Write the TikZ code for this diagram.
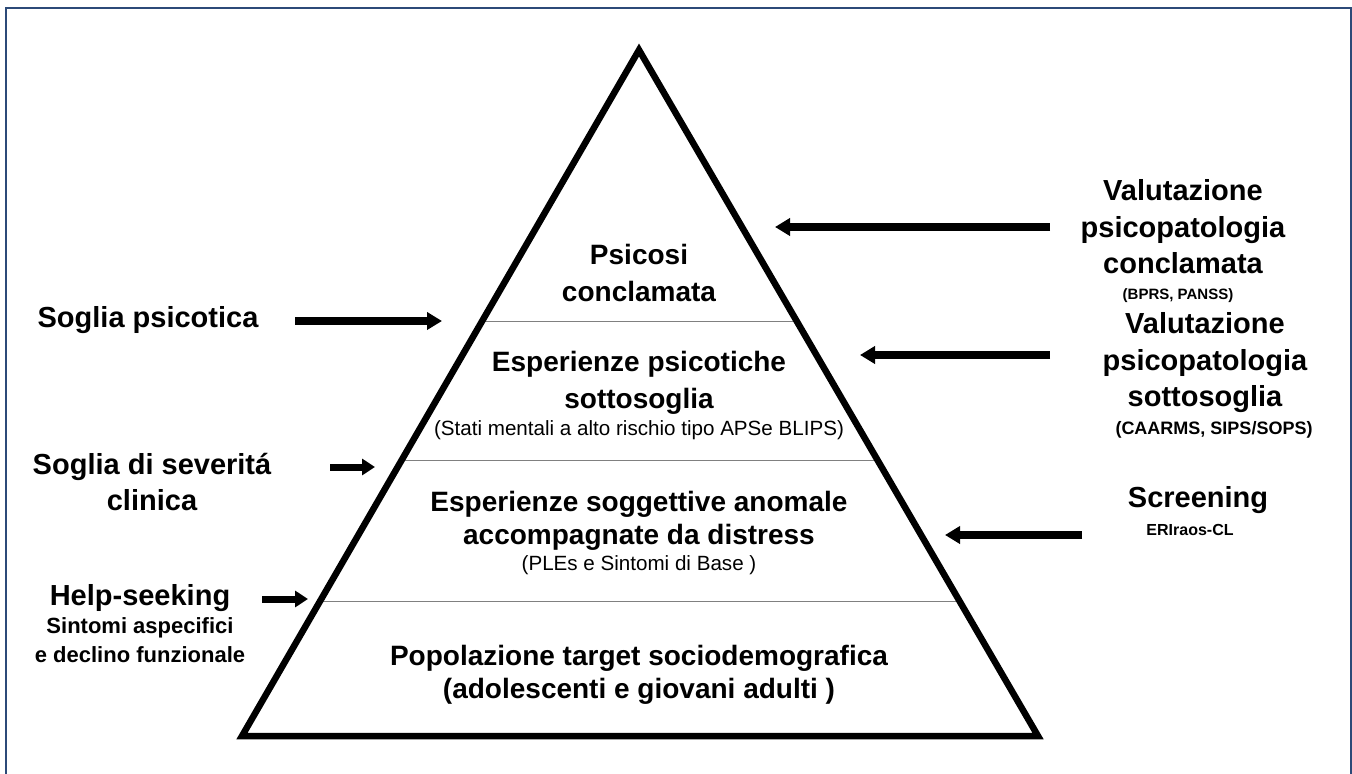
\documentclass[tikz,border=0pt]{standalone}
\usepackage{fontspec}
\setmainfont{Liberation Sans}
\usetikzlibrary{arrows.meta,calc}
\definecolor{framecol}{RGB}{44,74,120}

\begin{document}
\begin{tikzpicture}[x=0.5pt,y=-0.5pt]
	\tikzstyle{level_style} = [align=center,font=\fontsize{14}{18.5}\selectfont\bfseries]
	\tikzstyle{note_style} = [align=center,font=\fontsize{10.3}{12}\selectfont]
	\tikzstyle{label_style} = [align=center,font=\fontsize{14.5}{18.25}\selectfont\bfseries]
	\tikzstyle{small_style} = [align=center,font=\fontsize{11}{14.5}\selectfont\bfseries]
	\tikzstyle{edge_style} = [draw=black,line width=3.75pt,-{Triangle[length=7.5pt,width=8.5pt]}]
	\tikzstyle{short_edge_style} = [draw=black,line width=3.5pt,-{Triangle[length=6.5pt,width=8pt]}]
	\tikzstyle{divider_style} = [draw=gray,line width=0.5pt]
	\useasboundingbox (0,0) rectangle (1352,774);
	\begin{scope}
		\clip (0,0) rectangle (1352,774);
		\draw[framecol,line width=1pt] (6,8) rectangle (1351,800);
	\end{scope}
	% pyramid
	\coordinate (top) at (639,50);
	\coordinate (bl) at (242,736);
	\coordinate (br) at (1038,736);
	\draw[divider_style] ($(top)!0.3965!(bl)$) -- ($(top)!0.3965!(br)$);
	\draw[divider_style] ($(top)!0.5977!(bl)$) -- ($(top)!0.5977!(br)$);
	\draw[divider_style] ($(top)!0.8032!(bl)$) -- ($(top)!0.8032!(br)$);
	\draw[line width=3.25pt,line join=miter] (top) -- (bl) -- (br) -- cycle;
	\node[level_style] (p1) at (639,273) {Psicosi\\conclamata};
	\node[level_style] (p2) at (639,383) {Esperienze psicotiche\\sottosoglia};
	\node[note_style] (n2) at (639,430) {(Stati mentali a alto rischio tipo APSe BLIPS)};
	\node[level_style] (p3) at (639,521) {Esperienze soggettive anomale\\[-2pt]accompagnate da distress};
	\node[note_style] (n3) at (639,565) {(PLEs e Sintomi di Base )};
	\node[level_style] (p4) at (639,675) {Popolazione target sociodemografica\\[-2pt](adolescenti e giovani adulti )};
	% left labels
	\node[label_style] (l1) at (148,320) {Soglia psicotica};
	\node[label_style] (l2) at (152,482) {Soglia di severitá\\clinica};
	\node[label_style] (l3) at (140,598) {Help-seeking};
	\node[small_style] (l4) at (140,640) {Sintomi aspecifici\\e declino funzionale};
	% right labels
	\node[label_style] (r1) at (1183,227) {Valutazione\\psicopatologia\\conclamata};
	\node[font=\fontsize{7.5}{9}\selectfont\bfseries] (r1n) at (1178,296) {(BPRS, PANSS)};
	\node[label_style] (r2) at (1205,363) {Valutazione\\psicopatologia\\sottosoglia};
	\node[font=\fontsize{9}{10}\selectfont\bfseries] (r2n) at (1214,430) {(CAARMS, SIPS/SOPS)};
	\node[label_style] (r3) at (1198,500) {Screening};
	\node[font=\fontsize{8}{10}\selectfont\bfseries] (r3n) at (1190,530) {ERIraos-CL};
	% arrow ends
	\coordinate (a1) at (295,321);
	\coordinate (b1) at (442,321);
	\coordinate (a2) at (330,467);
	\coordinate (b2) at (375,467);
	\coordinate (a3) at (262,599);
	\coordinate (b3) at (308,599);
	\coordinate (a4) at (1050,227);
	\coordinate (b4) at (775,227);
	\coordinate (a5) at (1050,355);
	\coordinate (b5) at (860,355);
	\coordinate (a6) at (1082,535);
	\coordinate (b6) at (945,535);
	\draw[edge_style] (a1) -- (b1);
	\draw[short_edge_style] (a2) -- (b2);
	\draw[short_edge_style] (a3) -- (b3);
	\draw[edge_style] (a4) -- (b4);
	\draw[edge_style] (a5) -- (b5);
	\draw[edge_style] (a6) -- (b6);
\end{tikzpicture}
\end{document}
